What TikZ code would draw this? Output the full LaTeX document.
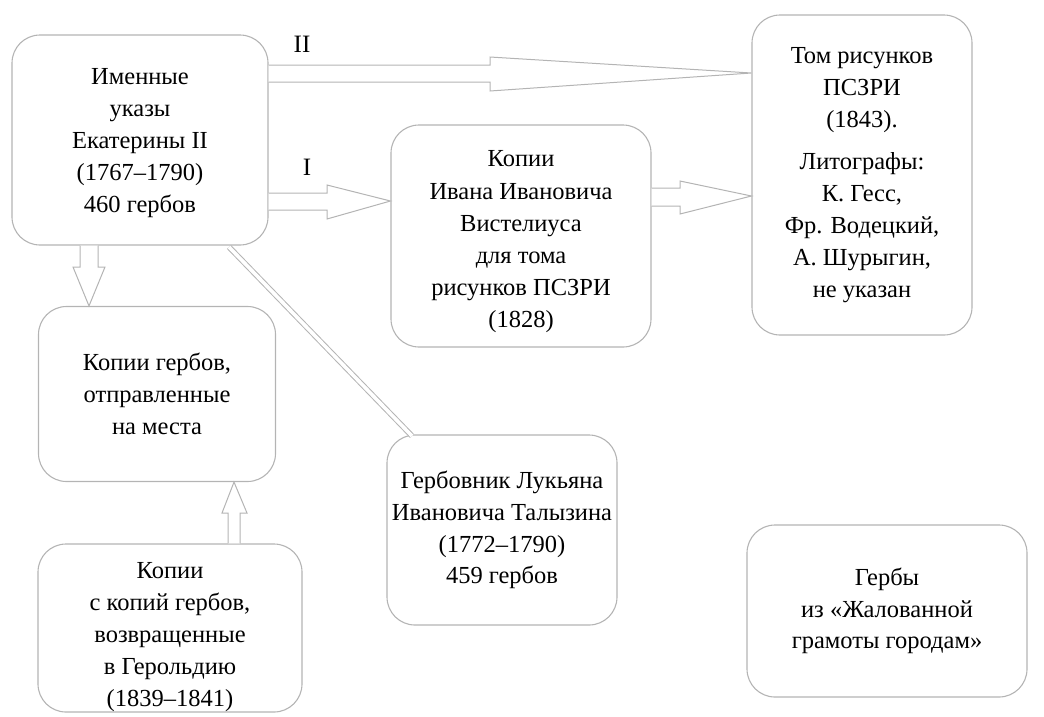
\documentclass[tikz,border=0pt]{standalone}
\usepackage{fontspec}
\setmainfont{Liberation Serif}
\usetikzlibrary{calc}
\definecolor{ln}{HTML}{B4B4B4}
\begin{document}
\begin{tikzpicture}[x=1pt,y=-1pt,
  box/.style={draw=ln, line width=1.1pt, rounded corners=28pt, align=center, inner sep=0pt,
     font=\fontsize{24.5}{31.8}\selectfont},
  txt/.style={align=center, inner sep=0pt, font=\fontsize{24.5}{32.2}\selectfont},
  arr/.style={draw=ln, line width=1pt, fill=white, line join=miter},
  lbl/.style={font=\fontsize{25}{28}\selectfont}]
\useasboundingbox (0,0) rectangle (1044,716);
\node[box, minimum width=256pt, minimum height=210pt] (n1) at (140,140) {};
\node[txt] (t1) at (140,143) {Именные\\указы\\Екатерины II\\(1767–1790)\\460 гербов};
\node[box, minimum width=260pt, minimum height=222pt] (n2) at (521,236) {};
\node[txt] (t2) at (521,242) {Копии\\Ивана Ивановича\\Вистелиуса\\для тома\\рисунков ПСЗРИ\\(1828)};
\node[box, minimum width=220pt, minimum height=320pt] (n3) at (862,175) {Том рисунков\\ПСЗРИ\\(1843).\\[11pt]Литографы:\\К. Гесс,\\Фр. Водецкий,\\А. Шурыгин,\\не указан};
\node[box, minimum width=237pt, minimum height=175pt] (n4) at (157,394) {Копии гербов,\\отправленные\\на места};
\node[box, minimum width=230pt, minimum height=190pt] (n5) at (502,530) {Гербовник Лукьяна\\Ивановича Талызина\\(1772–1790)\\459 гербов};
\node[box, minimum width=264pt, minimum height=168pt] (n6) at (170,628) {};
\node[txt] (t6) at (170,637) {Копии\\с копий гербов,\\возвращенные\\в Герольдию\\(1839–1841)};
\node[box, minimum width=280pt, minimum height=172pt] (n7) at (887,611) {Гербы\\из «Жалованной\\грамоты городам»};
% labels
\node[lbl] (l2) at (302,44) {II};
\node[lbl] (l1) at (307,167) {I};
% arrow II
\draw[arr] (n1.east |- 0,65) -- (490,65) -- (490,57) -- (n3.west |- 0,73) -- (490,91) -- (490,82) -- (n1.east |- 0,82);
% arrow I
\draw[arr] (n1.east |- 0,193) -- (327,193) -- (327,185) -- (n2.west |- 0,201) -- (327,219) -- (327,210) -- (n1.east |- 0,210);
% n2 -> n3
\draw[arr] (n2.east |- 0,188) -- (680,188) -- (680,181) -- (n3.west |- 0,196) -- (680,214) -- (680,206) -- (n2.east |- 0,206);
% down arrow n1 -> n4
\draw[arr] (80,0 |- n1.south) -- (80,267) -- (73,267) -- (89,0 |- n4.north) -- (105,267) -- (98,267) -- (98,0 |- n1.south);
% up arrow n6 -> n4
\draw[arr] (228,0 |- n6.north) -- (228,513) -- (222,513) -- (234,0 |- n4.south) -- (247,513) -- (240,513) -- (240,0 |- n6.north);
% diagonal double line n1 -> n5
\coordinate (d1) at (229,247);
\coordinate (d2) at (412,436);
\draw[draw=ln, line width=1pt, double=white, double distance=3.6pt] (d1) -- (d2);
\end{tikzpicture}
\end{document}
